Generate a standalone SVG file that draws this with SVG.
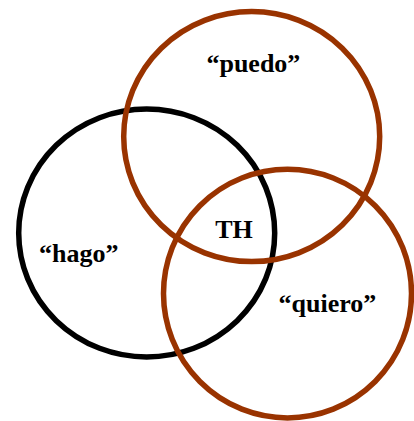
<svg xmlns="http://www.w3.org/2000/svg" width="414" height="421" viewBox="0 0 414 421">
<style>
.c{fill:none;stroke-width:5.5}
.k{stroke:#000}
.b{stroke:#993300}
text{font-family:"Liberation Serif","Times New Roman",serif;font-weight:bold;font-size:26px;fill:#000;text-anchor:middle}
</style>
<rect width="414" height="421" fill="#fff"/>
<g id="hago">
<ellipse class="c k" cx="146.7" cy="233" rx="128" ry="124"/>
<text x="78.7" y="262">“hago”</text>
</g>
<g id="puedo">
<ellipse class="c b" cx="251.7" cy="136.6" rx="128" ry="125"/>
<text x="253.4" y="72">“puedo”</text>
</g>
<g id="quiero">
<ellipse class="c b" cx="287.5" cy="293.6" rx="124" ry="124.3"/>
<text x="327.5" y="312">“quiero”</text>
</g>
<g id="th">
<text x="234" y="238">TH</text>
</g>
<g id="connectors"/>
</svg>
